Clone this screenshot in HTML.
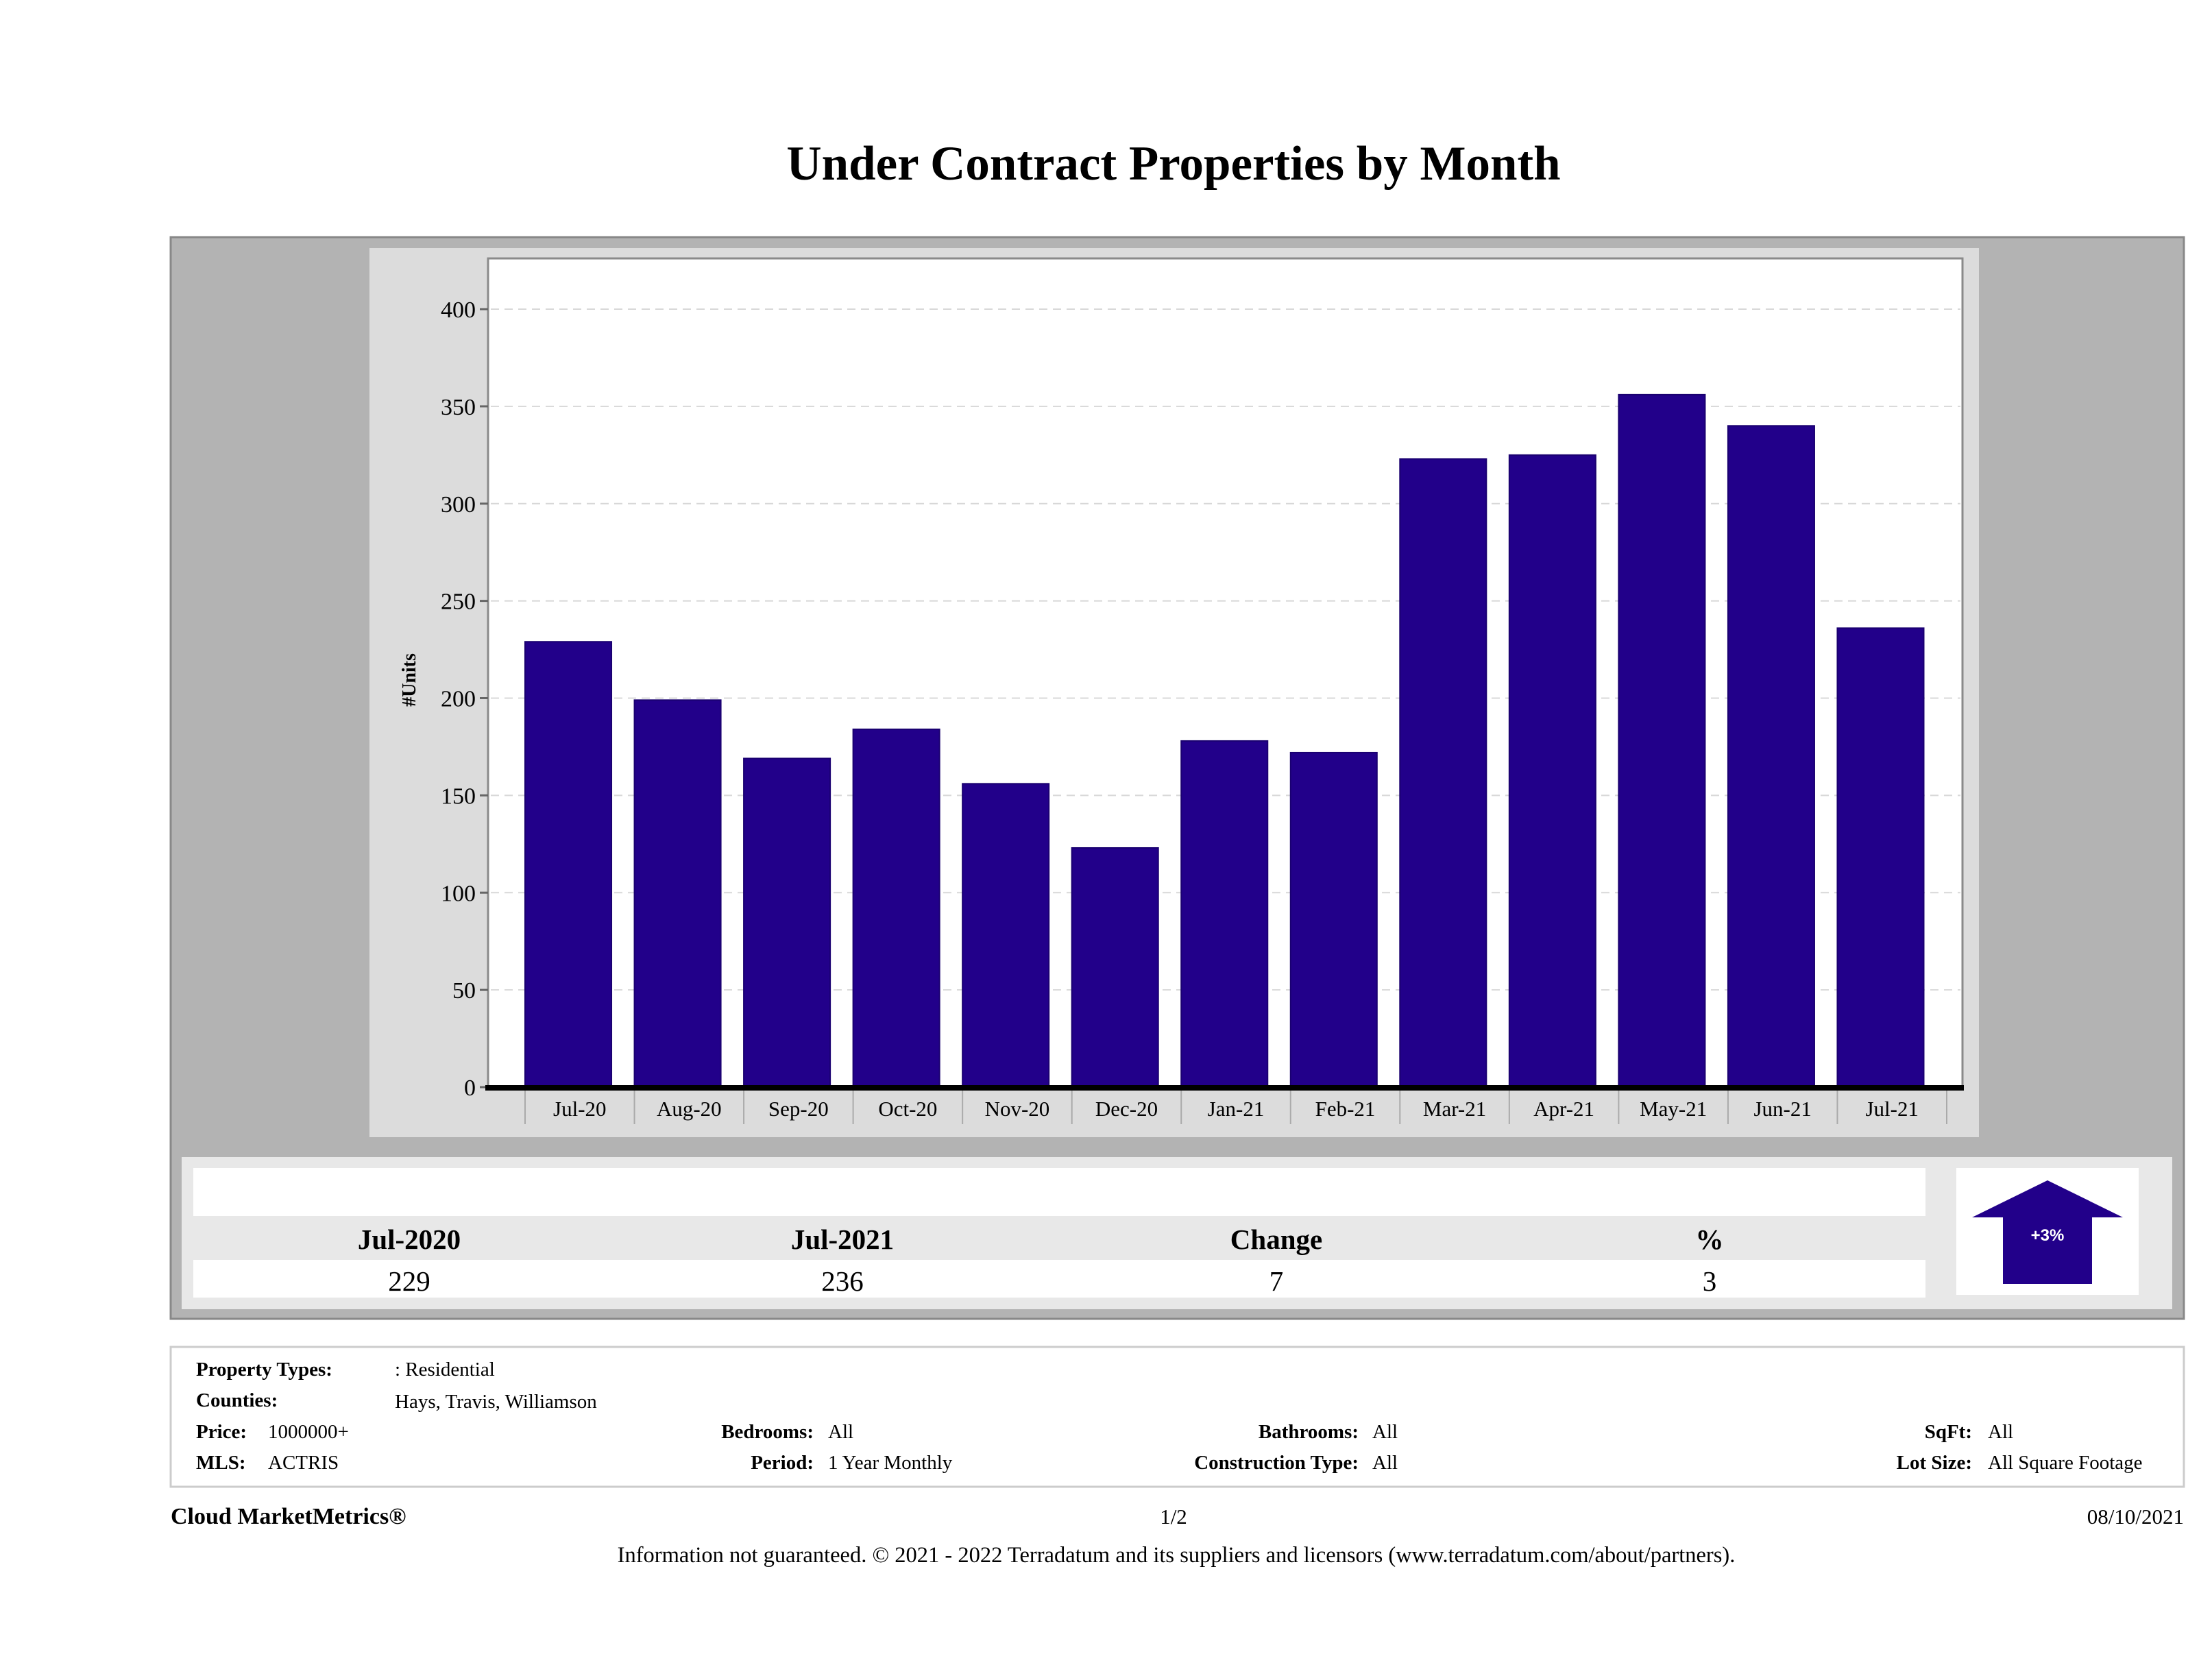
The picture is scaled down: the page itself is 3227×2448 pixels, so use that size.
<!DOCTYPE html>
<html><head><meta charset="utf-8"><style>
html,body{margin:0;padding:0;background:#fff;}
svg{display:block;font-family:"Liberation Serif",serif;}
</style></head><body>
<svg id="page" width="3227" height="2448" viewBox="0 0 3227 2448" xmlns="http://www.w3.org/2000/svg">
<text x="1712" y="262" font-size="71" font-weight="bold" text-anchor="middle">Under Contract Properties by Month</text>
<rect x="249" y="346" width="2937" height="1578" fill="#b3b3b3" stroke="#888" stroke-width="3"/>
<rect x="539" y="362" width="2348" height="1297" fill="#dcdcdc"/>
<rect x="712" y="377" width="2151" height="1210" fill="#fff" stroke="#8a8a8a" stroke-width="3"/>
<g id="grid"></g>
<g id="yticks"></g>
<g id="bars"></g>
<g id="xticks"></g>
<line x1="708" y1="1587" x2="2865" y2="1587" stroke="#000" stroke-width="8"/>
<text transform="translate(606,992) rotate(-90)" font-size="28" font-weight="bold" text-anchor="middle">#Units</text>

<rect x="265" y="1688" width="2904" height="222" fill="#e8e8e8"/>
<rect x="282" y="1704" width="2527" height="70" fill="#fff"/>
<rect x="282" y="1838" width="2527" height="55" fill="#fff"/>
<g font-size="41" font-weight="bold" text-anchor="middle">
<text x="597" y="1822">Jul-2020</text>
<text x="1229" y="1822">Jul-2021</text>
<text x="1862" y="1822">Change</text>
<text x="2494" y="1822">%</text>
</g>
<g font-size="41" text-anchor="middle">
<text x="597" y="1883">229</text>
<text x="1229" y="1883">236</text>
<text x="1862" y="1883">7</text>
<text x="2494" y="1883">3</text>
</g>
<rect x="2854" y="1704" width="266" height="185" fill="#fff"/>
<polygon points="2987,1722 3097,1776 3052,1776 3052,1873 2922,1873 2922,1776 2877,1776" fill="#22008a"/>
<text x="2987" y="1810" font-size="24" font-weight="bold" fill="#fff" text-anchor="middle" font-family="Liberation Sans, sans-serif">+3%</text>

<rect x="249" y="1965" width="2937" height="204" fill="#fff" stroke="#ccc" stroke-width="3"/>
<g font-size="29">
<text x="286" y="2007" font-weight="bold">Property Types:</text>
<text x="576" y="2007">: Residential</text>
<text x="286" y="2052" font-weight="bold">Counties:</text>
<text x="576" y="2054">Hays, Travis, Williamson</text>
<text x="286" y="2098" font-weight="bold">Price:</text>
<text x="391" y="2098">1000000+</text>
<text x="286" y="2143" font-weight="bold">MLS:</text>
<text x="391" y="2143">ACTRIS</text>
<text x="1187" y="2098" font-weight="bold" text-anchor="end">Bedrooms:</text>
<text x="1208" y="2098">All</text>
<text x="1187" y="2143" font-weight="bold" text-anchor="end">Period:</text>
<text x="1208" y="2143">1 Year Monthly</text>
<text x="1982" y="2098" font-weight="bold" text-anchor="end">Bathrooms:</text>
<text x="2002" y="2098">All</text>
<text x="1982" y="2143" font-weight="bold" text-anchor="end">Construction Type:</text>
<text x="2002" y="2143">All</text>
<text x="2877" y="2098" font-weight="bold" text-anchor="end">SqFt:</text>
<text x="2900" y="2098">All</text>
<text x="2877" y="2143" font-weight="bold" text-anchor="end">Lot Size:</text>
<text x="2900" y="2143">All Square Footage</text>
</g>
<text x="249" y="2223" font-size="34" font-weight="bold">Cloud MarketMetrics®</text>
<text x="1712" y="2223" font-size="31" text-anchor="middle">1/2</text>
<text x="3186" y="2223" font-size="31" text-anchor="end">08/10/2021</text>
<text x="1716" y="2279" font-size="32.5" text-anchor="middle">Information not guaranteed. © 2021 - 2022 Terradatum and its suppliers and licensors (www.terradatum.com/about/partners).</text>
</svg>
<script>
const categories = ["Jul-20","Aug-20","Sep-20","Oct-20","Nov-20","Dec-20","Jan-21","Feb-21","Mar-21","Apr-21","May-21","Jun-21","Jul-21"];
const values = [229,199,169,184,156,123,178,172,323,325,356,340,236];
const yTicks = [0,50,100,150,200,250,300,350,400];
const NS = "http://www.w3.org/2000/svg";
const Y0 = 1586, PX_PER_UNIT = 2.8375;
const BAND_START = 766, BAND_END = 2840;
function yScale(v){ return Y0 - v*PX_PER_UNIT; }
function bandW(){ return (BAND_END-BAND_START)/categories.length; }
function xScale(i){ return BAND_START + i*bandW(); }
function mk(tag, attrs){ const e=document.createElementNS(NS,tag); for(const k in attrs) e.setAttribute(k,attrs[k]); return e; }
const grid=document.getElementById('grid'), yt=document.getElementById('yticks'), bars=document.getElementById('bars'), xt=document.getElementById('xticks');
yTicks.forEach(t=>{
  const y=yScale(t);
  if(t>0){
    const g=mk('line',{x1:716,x2:2860,y1:y,y2:y,stroke:'#d8d8d8','stroke-width':2,'stroke-dasharray':'12 8'});
    
    
    grid.appendChild(g);
  }
  const tk=mk('line',{x1:700,x2:712,y1:y,y2:y,stroke:'#666','stroke-width':3});
  
  
  yt.appendChild(tk);
  const tx=mk('text',{x:694,y:y+12,'font-size':34,'text-anchor':'end'});
  
  
  tx.textContent=t; yt.appendChild(tx);
});
const bw=bandW();
categories.forEach((c,i)=>{
  const x=xScale(i), w=bw*0.79, bx=x;
  const r=mk('rect',{x:bx,y:yScale(values[i]),width:w,height:Y0-yScale(values[i]),fill:'#22008a',stroke:'#1a0070','stroke-width':2});
  
  
  bars.appendChild(r);
  const sep=mk('line',{x1:x,x2:x,y1:Y0,y2:1640,stroke:'#aaa','stroke-width':2});
  
  
  xt.appendChild(sep);
  const tx=mk('text',{x:x+bw/2,y:1628,'font-size':31,'text-anchor':'middle'});
  
  
  tx.textContent=c; xt.appendChild(tx);
});
const last=mk('line',{x1:BAND_END,x2:BAND_END,y1:Y0,y2:1640,stroke:'#aaa','stroke-width':2});


xt.appendChild(last);
</script>
</body></html>
